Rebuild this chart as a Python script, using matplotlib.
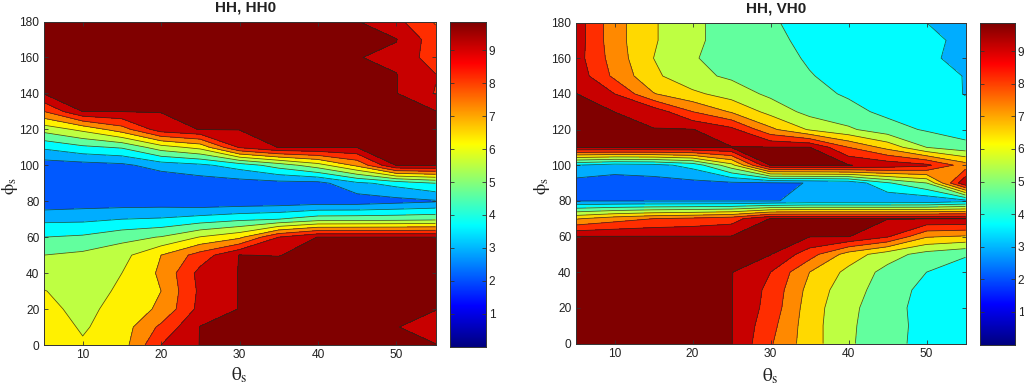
import numpy as np
import matplotlib
matplotlib.use('Agg')
import matplotlib.pyplot as plt
from matplotlib.colors import LinearSegmentedColormap

theta = [5, 10, 15, 20, 25, 30, 35, 40, 45, 50, 55]
phi = list(range(0, 181, 10))
titles = ['HH, HH0', 'HH, VH0']
cbar_ticks = [1, 2, 3, 4, 5, 6, 7, 8, 9]
x_ticks = [10, 20, 30, 40, 50]
y_ticks = [0, 20, 40, 60, 80, 100, 120, 140, 160, 180]
levels = [1.5, 2.8, 3.7, 4.6, 5.5, 6.4, 7.3, 8.2, 9.1, 9.97, 20]
bands_hh0 = [2.1, 2.9, 3.7, 4.65, 5.55, 6.32, 7.3, 8.2, 9.15, 9.9]
bands_vh0 = [2.1, 2.9, 3.7, 4.65, 5.55, 6.55, 7.3, 8.2, 9.15, 9.9]

# HH, HH0: one list per theta, phi = 0..180
hh0_t05 = [7.0, 6.9, 6.7, 6.44, 5.95, 5.5, 4.6, 3.48, 2.15, 1.95, 2.35, 3.85, 5.85, 8.2, 10, 11.5, 11.5, 11.5, 11.5]
hh0_t10 = [6.5, 6.3, 6.1, 6.0, 5.8, 5.7, 4.74, 3.5, 2.3, 2.0, 2.45, 4.4, 6.65, 10, 11.5, 11.5, 11.5, 11.5, 11.5]
hh0_t15 = [6.9, 6.85, 6.8, 6.55, 6.4, 6.1, 5.2, 3.7, 2.3, 2.1, 2.6, 4.7, 7.8, 10, 11.5, 11.5, 11.5, 11.5, 11.5]
hh0_t20 = [9.1, 8.4, 7.45, 7.3, 7.45, 7.3, 5.55, 3.8, 2.3, 2.0, 3.2, 6.0, 9.6, 10, 11.5, 11.5, 11.5, 11.5, 11.5]
hh0_t25 = [10, 10, 9.4, 9.3, 9.4, 8.6, 6.45, 4.1, 2.1, 2.3, 3.5, 6.7, 10, 11, 11.5, 11.5, 11.5, 11.5, 11.5]
hh0_t30 = [11, 11, 10, 10, 10, 10, 7.1, 4.4, 2.15, 2.4, 4.1, 9.2, 10, 11, 11.5, 11.5, 11.5, 11.5, 11.5]
hh0_t35 = [11.5, 11.5, 11.5, 11.5, 11, 9.9, 9.1, 4.6, 2.2, 2.5, 5.0, 10, 11, 11.5, 11.5, 11.5, 11.5, 11.5, 11.5]
hh0_t40 = [11.5, 11.5, 11.5, 11.5, 11.5, 10.7, 10, 5.1, 2.3, 2.5, 6.0, 10, 11, 11.5, 11.5, 11.5, 11.5, 11.5, 11.5]
hh0_t45 = [11.5, 11.5, 11.5, 11.5, 11.5, 11, 10, 5.15, 2.3, 3.5, 7.5, 10, 11, 11, 11, 11, 10, 11, 10]
hh0_t50 = [10.5, 10, 10.5, 11, 11, 11, 10, 5.2, 2.5, 4.0, 10, 11, 11, 11, 10, 10, 9.8, 10, 9.35]
hh0_t55 = [10, 9.6, 10, 11, 11, 11, 10, 5.3, 2.7, 4.6, 10, 11, 11, 10, 9.05, 9.15, 8.6, 8.6, 8.1]

# HH, VH0: one list per phi, theta = 5..55
vh0_p000 = [12, 12, 12, 12, 10, 8.3, 6.8, 5.65, 4.8, 4.4, 4.0]
vh0_p010 = [12, 12, 12, 12, 10, 8.5, 6.8, 5.65, 4.95, 4.3, 3.95]
vh0_p020 = [12, 12, 12, 12, 10, 8.75, 6.85, 5.7, 5.0, 4.2, 3.9]
vh0_p030 = [12, 12, 12, 12, 10, 8.85, 7.0, 5.85, 5.1, 4.3, 3.95]
vh0_p040 = [12, 12, 12, 12, 10, 9.1, 7.3, 6.15, 5.2, 4.6, 4.1]
vh0_p050 = [12, 12, 12, 12, 11, 10, 8.6, 6.9, 5.9, 5.15, 4.7]
vh0_p060 = [10, 10, 10, 10, 10, 11, 10, 10, 9.2, 7.4, 7.2]
vh0_p070 = [7.2, 7.8, 8.2, 8.4, 8.7, 10, 10, 10, 10, 10, 10]
vh0_p080 = [2.75, 2.75, 2.75, 2.75, 2.75, 2.75, 2.95, 2.95, 2.95, 3.0, 3.4]
vh0_p090 = [2.45, 2.35, 2.45, 2.55, 2.65, 2.7, 2.82, 3.0, 4.5, 5.5, 9.9]
vh0_p100 = [3.7, 3.3, 3.4, 4.0, 6.1, 10, 10, 10, 9.7, 9.3, 7.7]
vh0_p110 = [10, 10, 10, 10, 10, 10, 10, 8.2, 7.0, 5.5, 4.95]
vh0_p120 = [11, 11, 10, 10, 9.35, 7.5, 6.3, 5.65, 4.95, 4.5, 4.1]
vh0_p130 = [11, 9.95, 9.65, 8.2, 7.2, 6.1, 5.2, 4.85, 4.4, 4.1, 3.85]
vh0_p140 = [10, 9.1, 7.35, 6.6, 6.0, 5.3, 4.85, 4.5, 4.2, 3.95, 3.68]
vh0_p150 = [9.7, 8.0, 6.6, 5.75, 5.35, 5.0, 4.65, 4.3, 4.1, 3.9, 3.68]
vh0_p160 = [9.5, 7.8, 6.4, 5.55, 5.25, 4.95, 4.5, 4.2, 4.0, 3.85, 3.45]
vh0_p170 = [9.6, 7.65, 6.5, 5.65, 5.2, 4.8, 4.4, 4.2, 4.05, 3.9, 3.5]
vh0_p180 = [9.6, 7.65, 6.5, 5.65, 5.2, 4.7, 4.3, 4.2, 4.0, 3.7, 3.5]

Z_hh0 = np.array([hh0_t05, hh0_t10, hh0_t15, hh0_t20, hh0_t25, hh0_t30,
                  hh0_t35, hh0_t40, hh0_t45, hh0_t50, hh0_t55]).T
Z_vh0 = np.array([vh0_p000, vh0_p010, vh0_p020, vh0_p030, vh0_p040, vh0_p050,
                  vh0_p060, vh0_p070, vh0_p080, vh0_p090, vh0_p100, vh0_p110,
                  vh0_p120, vh0_p130, vh0_p140, vh0_p150, vh0_p160, vh0_p170,
                  vh0_p180])

plt.rcParams['font.family'] = ['Liberation Sans', 'DejaVu Sans']
plt.rcParams['mathtext.fontset'] = 'stix'

W, H = 1024, 385
fig = plt.figure(figsize=(W / 100, H / 100), dpi=100, facecolor='white')


def px_axes(x0, x1, y0, y1):
    return fig.add_axes([x0 / W, 1 - y1 / H, (x1 - x0) / W, (y1 - y0) / H])


CB_MAX = 9.88
cmap = LinearSegmentedColormap.from_list('matlab_jet', [
    (0.0, (0, 0, 0.5)), (0.125, (0, 0, 1)), (0.375, (0, 1, 1)),
    (0.625, (1, 1, 0)), (0.875, (1, 0, 0)), (1.0, (0.5, 0, 0))], N=256)
gradient = np.linspace(0, 1, 256).reshape(-1, 1)
panels = [
    (Z_hh0, bands_hh0, titles[0], (43.5, 435.5, 21.5, 345), (450, 486, 21.5, 346.5), 3),
    (Z_vh0, bands_vh0, titles[1], (575.5, 965.5, 22.5, 343.5), (979.5, 1015, 22.5, 344.5), 5),
]
edge = '#333333'

for Z, bands, title, rect, cb_rect, xpad in panels:
    ax = px_axes(*rect)
    ax.contourf(theta, phi, Z, levels=levels, colors=[cmap(v / CB_MAX) for v in bands])
    ax.contour(theta, phi, Z, levels=levels[1:-1], colors='#1a2a20',
               linewidths=0.55, alpha=0.8)
    ax.set_xlim(5, 55)
    ax.set_ylim(0, 180)
    ax.set_xticks(x_ticks)
    ax.set_yticks(y_ticks)
    ax.tick_params(direction='in', length=3, width=0.6, labelsize=8.6,
                   color=edge, labelcolor='#222222', pad=3, top=True, right=True)
    for s in ax.spines.values():
        s.set_linewidth(0.7)
        s.set_color(edge)
    ax.set_title(title, fontsize=11, fontweight='bold', color='#222222', pad=7,
                 x=0.515, y=1.0)
    ax.set_xlabel(r'$\mathrm{\theta_s}$', fontsize=14, labelpad=xpad, color='#222222')
    ax.set_ylabel(r'$\mathrm{\phi_s}$', fontsize=13, color='#222222')
    ax.yaxis.set_label_coords(-24 / (rect[1] - rect[0]), 0.49)

    cb = px_axes(*cb_rect)
    cb.imshow(gradient, aspect='auto', origin='lower', cmap=cmap,
              extent=[0, 1, 0, CB_MAX], vmin=0, vmax=1)
    cb.set_xticks([])
    cb.yaxis.tick_right()
    cb.set_yticks(cbar_ticks)
    cb.tick_params(direction='in', length=3, width=0.6, labelsize=8.6,
                   color=edge, labelcolor='#222222', pad=2, left=True, right=True)
    for s in cb.spines.values():
        s.set_linewidth(0.7)
        s.set_color(edge)

fig.savefig('out.png', dpi=100, facecolor='white')
